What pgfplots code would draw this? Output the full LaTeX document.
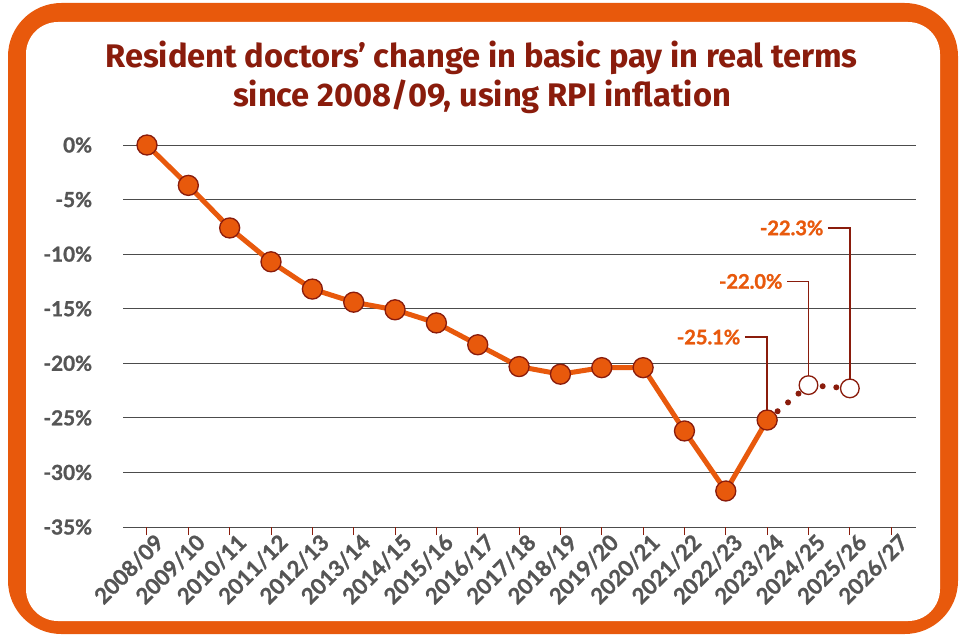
\documentclass[border=0pt]{standalone}
\usepackage{fontspec}
\setmainfont{Lato}[BoldFeatures={FakeBold=1.2}]
\newfontfamily\titlefont{Fira Sans}
\usepackage{pgfplots}
\pgfplotsset{compat=1.18}
\definecolor{orng}{HTML}{E8590C}
\definecolor{dred}{HTML}{8A1C0C}
\definecolor{tgray}{HTML}{555555}
\begin{document}
\begin{tikzpicture}[x=0.75pt,y=0.75pt]
\path[use as bounding box] (0,0) rectangle (960,637);
\fill[orng, rounded corners=40] (8,3) rectangle (958,634);
\fill[white, rounded corners=24] (26,16) rectangle (940,615);
\node[anchor=base, inner sep=0pt, font=\titlefont\bfseries\fontsize{24.5}{29}\selectfont, text=dred] at (481.5,569)
  {Resident doctors’ change in basic pay in real terms};
\node[anchor=base, inner sep=0pt, font=\titlefont\bfseries\fontsize{24.5}{29}\selectfont, text=dred] at (482,530)
  {since 2008/09, using RPI inflation};
\begin{axis}[at={(92.25pt,82.5pt)}, anchor=south west, scale only axis,
  width=594.75pt, height=286.5pt,
  xmin=-0.58, xmax=18.6, ymin=-35, ymax=0, clip=false,
  axis line style={draw=none},
  ytick={-35,-30,...,0},
  yticklabels={-35\%,-30\%,-25\%,-20\%,-15\%,-10\%,-5\%,0\%},
  ymajorgrids, grid style={black!70, line width=0.75pt},
  ytick style={draw=none},
  xtick={0,...,18},
  xticklabels={2008/09,2009/10,2010/11,2011/12,2012/13,2013/14,2014/15,2015/16,2016/17,2017/18,2018/19,2019/20,2020/21,2021/22,2022/23,2023/24,2024/25,2025/26,2026/27},
  xtick pos=bottom, ytick pos=left,
  xtick style={dred, line width=0.75pt},
  major tick length=6pt, tick align=outside,
  x tick label style={rotate=45, anchor=north east, xshift=6pt, yshift=-1pt, font=\bfseries\fontsize{16.5}{16.5}\selectfont, text=tgray, inner sep=1pt},
  y tick label style={anchor=east, xshift=-16pt, font=\bfseries\fontsize{15.5}{15.5}\selectfont, text=tgray, inner sep=1pt},
]
\draw[dred, line width=1pt] (axis cs:14.46,-17.6) -| (axis cs:15,-24.3);
\draw[dred, line width=1pt] (axis cs:15.48,-12.5) -| (axis cs:16,-21.2);
\draw[dred, line width=1pt] (axis cs:16.47,-7.6) -| (axis cs:17,-21.5);
\node[anchor=east, text=orng, inner sep=2pt, font=\bfseries\fontsize{15}{15}\selectfont] at (axis cs:14.42,-17.6) {-25.1\%};
\node[anchor=east, text=orng, inner sep=2pt, font=\bfseries\fontsize{15}{15}\selectfont] at (axis cs:15.44,-12.5) {-22.0\%};
\node[anchor=east, text=orng, inner sep=2pt, font=\bfseries\fontsize{15}{15}\selectfont] at (axis cs:16.43,-7.6) {-22.3\%};
\addplot[dred, line width=4.5pt, line cap=round, dash pattern=on 0pt off 10.25pt] coordinates {(15,-25.2)(16,-22.0)(17,-22.3)};
\addplot[orng, line width=3.75pt, mark=*, mark size=7.5pt, mark options={solid, fill=orng, draw=dred, line width=1pt}] coordinates {
(0,0)(1,-3.7)(2,-7.6)(3,-10.7)(4,-13.2)(5,-14.4)(6,-15.1)(7,-16.3)(8,-18.3)(9,-20.3)(10,-21.0)(11,-20.4)(12,-20.4)(13,-26.2)(14,-31.7)(15,-25.2)};
\addplot[only marks, mark=*, mark size=7pt, mark options={solid, fill=white, draw=dred, line width=1pt}] coordinates {(16,-22.0)(17,-22.3)};
\end{axis}
\end{tikzpicture}
\end{document}
